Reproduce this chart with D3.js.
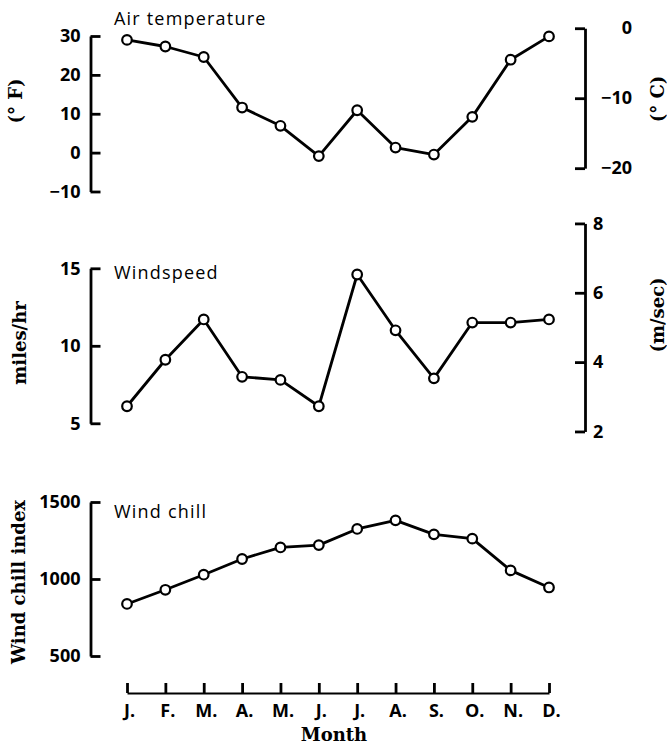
<!DOCTYPE html>
<html>
<head>
<meta charset="utf-8">
<script src="https://cdn.jsdelivr.net/npm/d3@7"></script>
<style>
  body { margin: 0; background: #fff; }
  .tick text { font-family: "Open Sans", sans-serif; font-weight: 700; font-size: 18px; fill: #000; }
  .title { font-family: "Open Sans", sans-serif; font-weight: 500; font-size: 18px; letter-spacing: 1.2px; fill: #000; }
  .unit { font-family: "DejaVu Serif", serif; font-weight: 700; font-size: 18px; fill: #000; }
</style>
</head>
<body>
<script>
// monthly values
const months = ["J.", "F.", "M.", "A.", "M.", "J.", "J.", "A.", "S.", "O.", "N.", "D."];
const airTempF = [29, 27.3, 24.6, 11.6, 6.9, -0.9, 10.9, 1.3, -0.5, 9.2, 23.9, 29.9];
const windMph = [6.1, 9.1, 11.7, 8.0, 7.8, 6.1, 14.6, 11.0, 7.9, 11.5, 11.5, 11.7];
const windChill = [838, 930, 1028, 1130, 1205, 1220, 1325, 1381, 1290, 1262, 1056, 945];

const tempTicksF = [-10, 0, 10, 20, 30];
const tempTicksC = [0, -10, -20];
const windTicksMph = [5, 10, 15];
const windTicksMs = [2, 4, 6, 8];
const chillTicks = [500, 1000, 1500];

const svg = d3.select("body")
    .append("svg")
    .attr("width", 667)
    .attr("height", 746);

const x = d3.scalePoint()
    .domain(d3.range(months.length))
    .range([127, 549]);

const leftX = 90.5;
const rightX = 585;

// y scales
const yTemp = d3.scaleLinear().domain([-10, 30]).range([191.5, 36]);
const yTempC = d3.scaleLinear().domain([-20, 0])
    .range([yTemp(-20 * 9 / 5 + 32), yTemp(32)]);
const yWind = d3.scaleLinear().domain([5, 15]).range([423.3, 268.3]);
const yWindMs = d3.scaleLinear().domain([2, 8])
    .range([yWind(2 * 2.23694), yWind(8 * 2.23694)]);
const yChill = d3.scaleLinear().domain([500, 1500]).range([656, 502]);

const fmt = d => d < 0 ? "\u2212" + Math.abs(d) : String(d);

function styleAxis(g) {
    g.select(".domain").attr("stroke", "#000").attr("stroke-width", 2.8);
    g.selectAll(".tick line").attr("stroke", "#000").attr("stroke-width", 2.8);
}

function leftAxis(scale, ticks) {
    svg.append("g")
        .attr("transform", `translate(${leftX},0)`)
        .call(d3.axisLeft(scale).tickValues(ticks).tickFormat(fmt)
            .tickSizeInner(-10).tickSizeOuter(0).tickPadding(10))
        .call(styleAxis);
}

function rightAxis(scale, ticks, anchorEnd) {
    const g = svg.append("g")
        .attr("transform", `translate(${rightX},0)`)
        .call(d3.axisRight(scale).tickValues(ticks).tickFormat(fmt)
            .tickSizeInner(-10).tickSizeOuter(0).tickPadding(8))
        .call(styleAxis);
    if (anchorEnd) {
        g.selectAll(".tick text").attr("text-anchor", "end").attr("x", 47);
    }
}

function series(values, y, title, titleY) {
    const line = d3.line()
        .x((d, i) => x(i))
        .y(d => y(d));

    svg.append("path")
        .datum(values)
        .attr("d", line)
        .attr("fill", "none")
        .attr("stroke", "#000")
        .attr("stroke-width", 2.8)
        .attr("stroke-linejoin", "round");

    svg.append("g")
        .selectAll("circle")
        .data(values)
        .enter()
        .append("circle")
        .attr("cx", (d, i) => x(i))
        .attr("cy", d => y(d))
        .attr("r", 4.8)
        .attr("fill", "#fff")
        .attr("stroke", "#000")
        .attr("stroke-width", 2.2);

    svg.append("text")
        .attr("class", "title")
        .attr("x", 114)
        .attr("y", titleY)
        .text(title);
}

function unitLabel(text, cx, cy) {
    svg.append("text")
        .attr("class", "unit")
        .attr("text-anchor", "middle")
        .attr("dominant-baseline", "central")
        .attr("transform", `translate(${cx},${cy}) rotate(-90)`)
        .text(text);
}

// Air temperature
leftAxis(yTemp, tempTicksF);
rightAxis(yTempC, tempTicksC, true);
series(airTempF, yTemp, "Air temperature", 25);
unitLabel("(° F)", 15, 101);
unitLabel("(° C)", 657, 99);

// Windspeed
leftAxis(yWind, windTicksMph);
rightAxis(yWindMs, windTicksMs, false);
series(windMph, yWind, "Windspeed", 279);
unitLabel("miles/hr", 19, 343);
unitLabel("(m/sec)", 657, 315);

// Wind chill
leftAxis(yChill, chillTicks);
series(windChill, yChill, "Wind chill", 518);
unitLabel("Wind chill index", 18, 582);

// month axis
const xAxis = svg.append("g")
    .attr("transform", "translate(0,693)")
    .call(d3.axisBottom(x).tickFormat(i => months[i])
        .tickSizeInner(-10).tickSizeOuter(0).tickPadding(11))
    .call(styleAxis);
xAxis.select(".domain").attr("stroke-width", 2.2);
xAxis.selectAll(".tick text").attr("dx", 2);

svg.append("text")
    .attr("class", "unit")
    .attr("text-anchor", "middle")
    .attr("x", 334)
    .attr("y", 741)
    .text("Month");
</script>
</body>
</html>
